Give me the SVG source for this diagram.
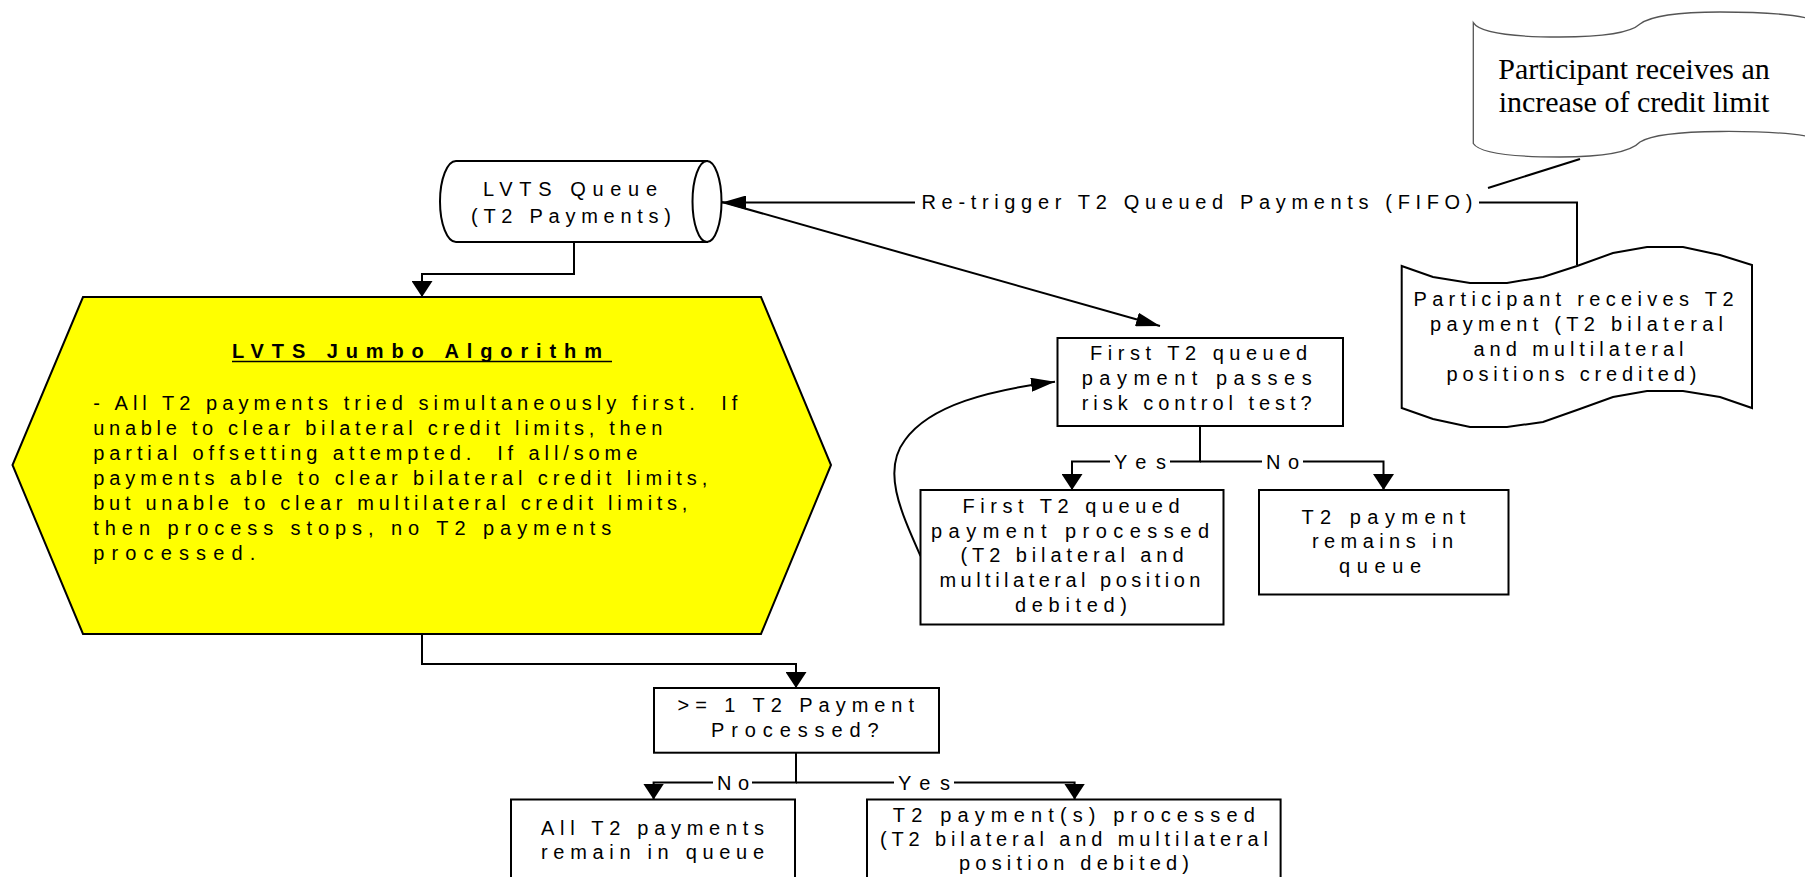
<svg xmlns="http://www.w3.org/2000/svg" width="1805" height="877" viewBox="0 0 1805 877">
<defs>
<style>
.t{font-family:"Liberation Sans",Arial,sans-serif;font-size:20px;fill:#000}
.tb{font-family:"Liberation Sans",Arial,sans-serif;font-size:20px;font-weight:bold;fill:#000}
.ts{font-family:"Liberation Serif","Times New Roman",serif;font-size:30px;fill:#000}
.box{fill:#fff;stroke:#000;stroke-width:2}
.c{fill:none;stroke:#000;stroke-width:2}
</style>
<marker id="ah" markerUnits="userSpaceOnUse" viewBox="0 0 16 21" markerWidth="16" markerHeight="21" refX="16" refY="10.5" orient="auto"><path d="M0,0 L16,10.5 L0,21 Z" fill="#000"/></marker>
<marker id="al" markerUnits="userSpaceOnUse" viewBox="0 0 24 14" markerWidth="24" markerHeight="14" refX="24" refY="7" orient="auto"><path d="M0,0 L24,7 L0,14 Z" fill="#000"/></marker>
</defs>
<rect width="1805" height="877" fill="#fff"/>

<g id="connectors">
<path class="c" d="M574,242 V274 H422 V297" marker-end="url(#ah)"/>
<path class="c" d="M422,634 V664 H796 V688" marker-end="url(#ah)"/>
<path class="c" d="M915,202.5 H722" marker-end="url(#al)"/>
<path class="c" d="M1479,202.5 H1577 V265"/>
<path class="c" d="M1488,188 L1580,159"/>
<path class="c" d="M722,202 L1160,326" marker-end="url(#al)"/>
<path class="c" d="M920.5,556 C900,510 882,470 905,440 C930,405 990,390 1055,381.7" marker-end="url(#al)"/>
<path class="c" d="M1200,426 V461.5 H1170"/>
<path class="c" d="M1110,461.5 H1072 V490" marker-end="url(#ah)"/>
<path class="c" d="M1200,461.5 H1262"/>
<path class="c" d="M1303,461.5 H1383.5 V490" marker-end="url(#ah)"/>
<path class="c" d="M796,752.7 V782.5 H752"/>
<path class="c" d="M713,782.5 H653.6 V799.5" marker-end="url(#ah)"/>
<path class="c" d="M796,782.5 H894"/>
<path class="c" d="M954,782.5 H1074.6 V799.5" marker-end="url(#ah)"/>
<text class="t" x="1114" y="468.5" textLength="52" lengthAdjust="spacing">Yes</text>
<text class="t" x="1266" y="468.5" textLength="33" lengthAdjust="spacing">No</text>
<text class="t" x="717" y="789.5" textLength="32" lengthAdjust="spacing">No</text>
<text class="t" x="898" y="789.5" textLength="52" lengthAdjust="spacing">Yes</text>
<text class="t" x="921.5" y="209" textLength="551" lengthAdjust="spacing">Re-trigger T2 Queued Payments (FIFO)</text>
</g>

<g id="credit-limit">
<path d="M1473.3,22.7 Q1482,37 1560,37 Q1626,37 1640,24 Q1656,12 1720,12 Q1788,12 1815,20 L1815,138 Q1788,131 1720,131.5 Q1656,132 1640,142 Q1626,157 1560,157 Q1482,157 1473.3,143.5 Z" fill="#fff" stroke="#555" stroke-width="1.3"/>
<text class="ts" x="1634" y="79" text-anchor="middle">Participant receives an</text>
<text class="ts" x="1634" y="112" text-anchor="middle">increase of credit limit</text>
</g>

<g id="lvts-queue">
<path class="box" d="M456,161 H707 V242 H456 A16,40.5 0 0 1 456,161 Z"/>
<ellipse class="box" cx="707" cy="201.5" rx="14.5" ry="40.5"/>
<text class="t" x="483" y="195.5" textLength="174" lengthAdjust="spacing">LVTS Queue</text>
<text class="t" x="471" y="222.5" textLength="200" lengthAdjust="spacing">(T2 Payments)</text>
</g>

<g id="jumbo">
<path d="M83,297 H761 L831,465 L761,634 H83 L12.5,465 Z" fill="#ffff00" stroke="#000" stroke-width="2"/>
<text class="tb" x="232" y="358" textLength="370" lengthAdjust="spacing">LVTS Jumbo Algorithm</text>
<line x1="232" y1="361.5" x2="612" y2="361.5" stroke="#000" stroke-width="1.5"/>
<text class="t" x="93.3" y="410" textLength="644" lengthAdjust="spacing">- All T2 payments tried simultaneously first. &#160;If</text>
<text class="t" x="93.3" y="435" textLength="569" lengthAdjust="spacing">unable to clear bilateral credit limits, then</text>
<text class="t" x="93.3" y="460" textLength="544" lengthAdjust="spacing">partial offsetting attempted. &#160;If all/some</text>
<text class="t" x="93.3" y="485" textLength="614" lengthAdjust="spacing">payments able to clear bilateral credit limits,</text>
<text class="t" x="93.3" y="510" textLength="594" lengthAdjust="spacing">but unable to clear multilateral credit limits,</text>
<text class="t" x="93.3" y="535" textLength="518" lengthAdjust="spacing">then process stops, no T2 payments</text>
<text class="t" x="93.3" y="560" textLength="162" lengthAdjust="spacing">processed.</text>
</g>

<g id="receives-t2">
<path class="box" d="M1401.7,266 L1433,277 L1470,283 L1507,283 L1543,277 L1577,266 L1613,253 L1647,247 L1683,247 L1720,255 L1752,265 L1752,408 L1720,397 L1683,391 L1647,391 L1613,397 L1577,410 L1543,422 L1507,427 L1470,427 L1433,419 L1401.7,408 Z"/>
<text class="t" x="1413.5" y="306" textLength="320" lengthAdjust="spacing">Participant receives T2</text>
<text class="t" x="1430" y="331" textLength="293" lengthAdjust="spacing">payment (T2 bilateral</text>
<text class="t" x="1473.5" y="355.5" textLength="210" lengthAdjust="spacing">and multilateral</text>
<text class="t" x="1446.5" y="381" textLength="250" lengthAdjust="spacing">positions credited)</text>
</g>

<g id="risk-test">
<rect class="box" x="1057.5" y="338" width="285.5" height="88"/>
<text class="t" x="1090" y="360" textLength="217" lengthAdjust="spacing">First T2 queued</text>
<text class="t" x="1081.7" y="385" textLength="230" lengthAdjust="spacing">payment passes</text>
<text class="t" x="1081.7" y="410" textLength="230" lengthAdjust="spacing">risk control test?</text>
</g>

<g id="first-processed">
<rect class="box" x="920.5" y="490" width="303" height="134.5"/>
<text class="t" x="962.6" y="513" textLength="217" lengthAdjust="spacing">First T2 queued</text>
<text class="t" x="931" y="537.5" textLength="278" lengthAdjust="spacing">payment processed</text>
<text class="t" x="960.5" y="562" textLength="223" lengthAdjust="spacing">(T2 bilateral and</text>
<text class="t" x="939.4" y="587" textLength="261" lengthAdjust="spacing">multilateral position</text>
<text class="t" x="1015" y="612" textLength="112" lengthAdjust="spacing">debited)</text>
</g>

<g id="remains">
<rect class="box" x="1259" y="490" width="249.5" height="104.5"/>
<text class="t" x="1301.4" y="523.5" textLength="164" lengthAdjust="spacing">T2 payment</text>
<text class="t" x="1312" y="548" textLength="141" lengthAdjust="spacing">remains in</text>
<text class="t" x="1339" y="573" textLength="82" lengthAdjust="spacing">queue</text>
</g>

<g id="decision">
<rect class="box" x="654" y="688" width="285" height="64.7"/>
<text class="t" x="677.5" y="712" textLength="236.5" lengthAdjust="spacing">&gt;= 1 T2 Payment</text>
<text class="t" x="711" y="737" textLength="167.5" lengthAdjust="spacing">Processed?</text>
</g>

<g id="all-remain">
<rect class="box" x="511" y="799.5" width="284" height="100"/>
<text class="t" x="541" y="835" textLength="223" lengthAdjust="spacing">All T2 payments</text>
<text class="t" x="541" y="859" textLength="223" lengthAdjust="spacing">remain in queue</text>
</g>

<g id="some-processed">
<rect class="box" x="867" y="799.5" width="413.6" height="100"/>
<text class="t" x="892.8" y="822" textLength="362" lengthAdjust="spacing">T2 payment(s) processed</text>
<text class="t" x="880" y="846" textLength="388" lengthAdjust="spacing">(T2 bilateral and multilateral</text>
<text class="t" x="959" y="870" textLength="230" lengthAdjust="spacing">position debited)</text>
</g>
</svg>
